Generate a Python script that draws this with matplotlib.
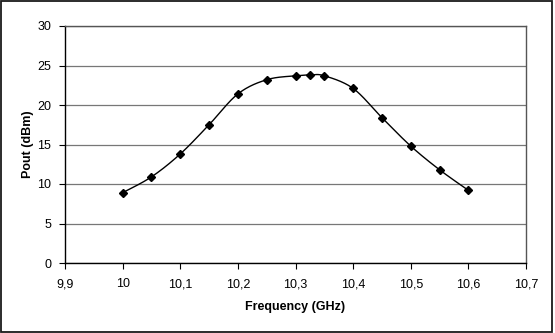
import numpy as np
import matplotlib
matplotlib.use("Agg")
import matplotlib.pyplot as plt
from matplotlib.ticker import FuncFormatter, MultipleLocator
from matplotlib.patches import Rectangle

# Measured output power versus frequency
freq_ghz = [10.0, 10.05, 10.1, 10.15, 10.2, 10.25, 10.3, 10.325, 10.35,
            10.4, 10.45, 10.5, 10.55, 10.6]
pout_dbm = [8.9, 10.9, 13.8, 17.5, 21.4, 23.2, 23.7, 23.8, 23.7,
            22.1, 18.4, 14.8, 11.8, 9.2]

x_label = "Frequency (GHz)"
y_label = "Pout (dBm)"


def smooth_curve(x, y, n=30):
    """Spreadsheet-style smoothed line: cubic Bezier segments with
    Catmull-Rom control points (tension 1/6)."""
    x = np.asarray(x, float)
    y = np.asarray(y, float)
    px = np.concatenate([[x[0]], x, [x[-1]]])
    py = np.concatenate([[y[0]], y, [y[-1]]])
    xs, ys = [], []
    t = np.linspace(0, 1, n)
    for i in range(1, len(px) - 2):
        p0 = np.array([px[i], py[i]])
        p3 = np.array([px[i + 1], py[i + 1]])
        p1 = p0 + (np.array([px[i + 1], py[i + 1]]) - np.array([px[i - 1], py[i - 1]])) / 6
        p2 = p3 - (np.array([px[i + 2], py[i + 2]]) - np.array([px[i], py[i]])) / 6
        b = ((1 - t) ** 3)[:, None] * p0 + (3 * (1 - t) ** 2 * t)[:, None] * p1 \
            + (3 * (1 - t) * t ** 2)[:, None] * p2 + (t ** 3)[:, None] * p3
        xs.append(b[:, 0])
        ys.append(b[:, 1])
    return np.concatenate(xs), np.concatenate(ys)


plt.rcParams["font.family"] = ["Liberation Sans", "DejaVu Sans"]

fig = plt.figure(figsize=(5.55, 3.33), dpi=100)
W, H = 555, 333
ax = fig.add_axes([65 / W, 1 - 263 / H, (526 - 65) / W, (263 - 26) / H])

# Outer chart frame
fig.patches.append(Rectangle((1 / W, 1 / H), 551 / W, 331 / H,
                             transform=fig.transFigure, fill=False,
                             edgecolor="#1a1a1a", linewidth=1.3))

sx, sy = smooth_curve(freq_ghz, pout_dbm)
ax.plot(sx, sy, color="black", linewidth=1.0, zorder=3)
ax.plot(freq_ghz, pout_dbm, linestyle="none", marker="D", markersize=4.2,
        color="black", zorder=4)

ax.set_xlim(9.9, 10.7)
ax.set_ylim(0, 30)
ax.xaxis.set_major_locator(MultipleLocator(0.1))
ax.yaxis.set_major_locator(MultipleLocator(5))


def comma_fmt(v, pos):
    s = f"{v:.1f}"
    if s.endswith(".0"):
        s = s[:-2]
    return s.replace(".", ",")


ax.xaxis.set_major_formatter(FuncFormatter(comma_fmt))
ax.yaxis.set_major_formatter(FuncFormatter(lambda v, p: f"{v:.0f}"))

ax.grid(axis="y", color="#777777", linewidth=0.9)
ax.set_axisbelow(True)
for side in ("left", "bottom"):
    ax.spines[side].set_color("black")
    ax.spines[side].set_linewidth(1.0)
for side in ("top", "right"):
    ax.spines[side].set_color("#555555")
    ax.spines[side].set_linewidth(1.0)

ax.tick_params(axis="both", direction="out", length=4, width=0.8,
               labelsize=9, colors="black")
ax.tick_params(axis="x", pad=7)
ax.tick_params(axis="y", pad=6)

ax.set_xlabel(x_label, fontsize=9, fontweight="bold", labelpad=8)
ax.set_ylabel(y_label, fontsize=9, fontweight="bold", labelpad=2)

fig.savefig("out.png", dpi=100)
